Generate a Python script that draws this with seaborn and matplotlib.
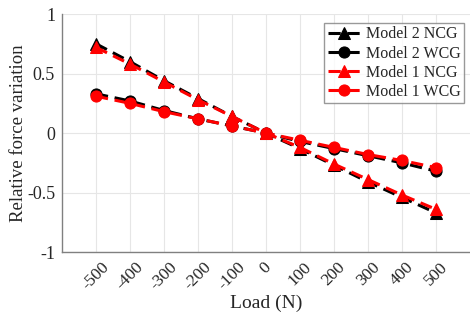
import numpy as np
import pandas as pd
import seaborn as sns
import matplotlib.pyplot as plt

load = [-500, -400, -300, -200, -100, 0, 100, 200, 300, 400, 500]

m2_ncg = [0.75, 0.60, 0.44, 0.29, 0.14, 0.0, -0.13, -0.27, -0.41, -0.54, -0.67]
m2_wcg = [0.33, 0.27, 0.19, 0.12, 0.06, 0.0, -0.07, -0.13, -0.19, -0.25, -0.32]
m1_ncg = [0.72, 0.58, 0.43, 0.28, 0.14, 0.0, -0.12, -0.26, -0.39, -0.52, -0.64]
m1_wcg = [0.31, 0.25, 0.18, 0.12, 0.06, 0.0, -0.06, -0.12, -0.18, -0.23, -0.29]

series = [
    ('Model 2 NCG', m2_ncg, 'black', '^'),
    ('Model 2 WCG', m2_wcg, 'black', 'o'),
    ('Model 1 NCG', m1_ncg, 'red', '^'),
    ('Model 1 WCG', m1_wcg, 'red', 'o'),
]

sns.set_style('whitegrid')
plt.rcParams['font.family'] = ['Liberation Serif', 'DejaVu Serif']

fig, ax = plt.subplots(figsize=(4.7, 3.2), dpi=100)
fig.subplots_adjust(left=0.132, right=1.0, top=0.956, bottom=0.212)

for name, vals, col, mk in series:
    df = pd.DataFrame({'Load': load, 'val': vals})
    sns.lineplot(data=df, x='Load', y='val', ax=ax, color=col, marker=mk,
                 linestyle=(0, (4, 2.2)), linewidth=2.2, markersize=8,
                 markeredgecolor=col, label=name)

ax.set_xlim(-600, 600)
ax.set_ylim(-1, 1)
ax.set_xticks(load)
ax.set_xticklabels([str(v) for v in load], rotation=45, fontsize=12.5)
ax.set_yticks([-1, -0.5, 0, 0.5, 1])
ax.set_yticklabels(['-1', '-0.5', '0', '0.5', '1'], fontsize=13)
ax.set_xlabel('Load (N)', fontsize=14, labelpad=1)
ax.set_ylabel('Relative force variation', fontsize=13.5, labelpad=0)
ax.grid(True, color='#e6e6e6', linewidth=0.8)

for s in ['top', 'right']:
    ax.spines[s].set_visible(False)
for s in ['left', 'bottom']:
    ax.spines[s].set_color('#808080')
    ax.spines[s].set_linewidth(1)
ax.tick_params(axis='both', direction='in', length=4, color='#808080', pad=5)

leg = ax.legend(loc='upper right', fontsize=11.5, handlelength=2, frameon=True,
                fancybox=False, edgecolor='#808080', borderpad=0.2,
                labelspacing=0.2, handletextpad=0.4, borderaxespad=0,
                bbox_to_anchor=(0.985, 0.962))
leg.get_frame().set_linewidth(1)

fig.savefig('out.png', dpi=100)
